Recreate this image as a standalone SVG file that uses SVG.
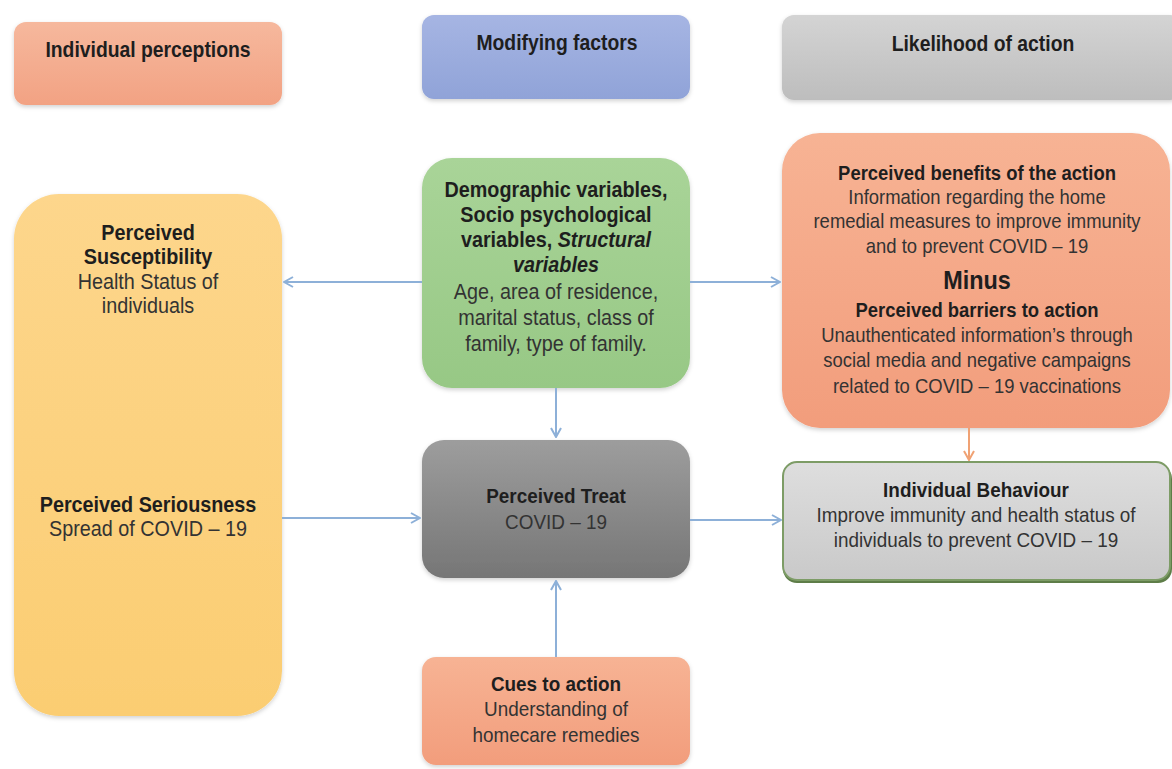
<svg xmlns="http://www.w3.org/2000/svg" width="1172" height="769" viewBox="0 0 1172 769">
<defs>
<linearGradient id="gSalmon" x1="0" y1="0" x2="0" y2="1"><stop offset="0" stop-color="#f6b89d"/><stop offset="1" stop-color="#f2a283"/></linearGradient>
<linearGradient id="gBlue" x1="0" y1="0" x2="0" y2="1"><stop offset="0" stop-color="#a6b5e3"/><stop offset="1" stop-color="#90a3d8"/></linearGradient>
<linearGradient id="gGray" x1="0" y1="0" x2="0" y2="1"><stop offset="0" stop-color="#d4d4d4"/><stop offset="1" stop-color="#bdbdbd"/></linearGradient>
<linearGradient id="gYellow" x1="0" y1="0" x2="0" y2="1"><stop offset="0" stop-color="#fdd68c"/><stop offset="1" stop-color="#fbcd72"/></linearGradient>
<linearGradient id="gGreen" x1="0" y1="0" x2="0" y2="1"><stop offset="0" stop-color="#a9d498"/><stop offset="1" stop-color="#97c885"/></linearGradient>
<linearGradient id="gOrange" x1="0" y1="0" x2="0" y2="1"><stop offset="0" stop-color="#f7b394"/><stop offset="1" stop-color="#f29d7c"/></linearGradient>
<linearGradient id="gDark" x1="0" y1="0" x2="0" y2="1"><stop offset="0" stop-color="#9d9d9d"/><stop offset="1" stop-color="#767676"/></linearGradient>
<linearGradient id="gLight" x1="0" y1="0" x2="0" y2="1"><stop offset="0" stop-color="#dedede"/><stop offset="1" stop-color="#c9c9c9"/></linearGradient>
<filter id="sh" x="-10%" y="-10%" width="120%" height="125%">
<feDropShadow dx="0" dy="2" stdDeviation="2" flood-color="#000" flood-opacity="0.18"/>
</filter>
<marker id="ah" viewBox="0 0 12 12" refX="11" refY="6" markerWidth="12" markerHeight="12" markerUnits="userSpaceOnUse" orient="auto">
<path d="M2,1 L11,6 L2,11" fill="none" stroke="#8db0d8" stroke-width="2"/>
</marker>
<marker id="ahO" viewBox="0 0 12 12" refX="11" refY="6" markerWidth="12" markerHeight="12" markerUnits="userSpaceOnUse" orient="auto">
<path d="M2,1 L11,6 L2,11" fill="none" stroke="#f0a274" stroke-width="2"/>
</marker>
</defs>
<style>
text{font-family:"Liberation Sans",Arial,sans-serif;text-anchor:middle;fill:#2a2a2a}
.h{font-weight:bold;font-size:21.5px;fill:#1e1e1e}
.b{font-weight:bold;font-size:22px;fill:#1e1e1e}
.r{font-size:22px;fill:#333}
.bo{font-weight:bold;font-size:20.5px;fill:#1e1e1e}
.ro{font-size:20.5px;fill:#333}
.bs{font-weight:bold;font-size:21px;fill:#1e1e1e}
.rs{font-size:21px;fill:#333}
.i{font-style:italic}
.box{filter:url(#sh)}
.conn line{stroke:#8db0d8;stroke-width:2;fill:none}
</style>
<rect width="1172" height="769" fill="#ffffff"/>

<g id="hdr-individual">
<rect class="box" x="14" y="22" width="268" height="83" rx="12" fill="url(#gSalmon)"/>
<g transform="translate(148 0) scale(0.9 1)"><text class="h" x="0" y="57">Individual perceptions</text></g>
</g>
<g id="hdr-modifying">
<rect class="box" x="422" y="15" width="268" height="84" rx="12" fill="url(#gBlue)"/>
<g transform="translate(557 0) scale(0.9 1)"><text class="h" x="0" y="50">Modifying factors</text></g>
</g>
<g id="hdr-likelihood">
<rect class="box" x="782" y="15" width="400" height="85" rx="12" fill="url(#gGray)"/>
<g transform="translate(983 0) scale(0.9 1)"><text class="h" x="0" y="51">Likelihood of action</text></g>
</g>

<g id="individual-perceptions">
<rect class="box" x="14" y="194" width="268" height="522" rx="45" fill="url(#gYellow)"/>
<g transform="translate(148 0) scale(0.9 1)">
<text class="b" x="0" y="240">Perceived</text>
<text class="b" x="0" y="264">Susceptibility</text>
<text class="r" x="0" y="289">Health Status of</text>
<text class="r" x="0" y="313">individuals</text>
<text class="b" x="0" y="512">Perceived Seriousness</text>
<text class="r" x="0" y="536">Spread of COVID – 19</text>
</g>
</g>

<g id="modifying-factors">
<rect class="box" x="422" y="158" width="268" height="230" rx="30" fill="url(#gGreen)"/>
<g transform="translate(556 0) scale(0.9 1)">
<text class="b" x="0" y="197">Demographic variables,</text>
<text class="b" x="0" y="222">Socio psychological</text>
<text class="b" x="0" y="247">variables, <tspan class="i">Structural</tspan></text>
<text class="b i" x="0" y="272">variables</text>
<text class="r" x="0" y="299">Age, area of residence,</text>
<text class="r" x="0" y="325">marital status, class of</text>
<text class="r" x="0" y="351">family, type of family.</text>
</g>
</g>

<g id="likelihood">
<rect class="box" x="782" y="133" width="388" height="295" rx="38" fill="url(#gOrange)"/>
<g transform="translate(977 0) scale(0.9 1)">
<text class="bo" x="0" y="180">Perceived benefits of the action</text>
<text class="ro" x="0" y="204">Information regarding the home</text>
<text class="ro" x="0" y="228">remedial measures to improve immunity</text>
<text class="ro" x="0" y="253">and to prevent COVID – 19</text>
<text class="bo" x="0" y="289" style="font-size:26px">Minus</text>
<text class="bo" x="0" y="317">Perceived barriers to action</text>
<text class="ro" x="0" y="342">Unauthenticated information’s through</text>
<text class="ro" x="0" y="367">social media and negative campaigns</text>
<text class="ro" x="0" y="393">related to COVID – 19 vaccinations</text>
</g>
</g>

<g id="perceived-treat">
<rect class="box" x="422" y="440" width="268" height="138" rx="22" fill="url(#gDark)"/>
<g transform="translate(556 0) scale(0.9 1)">
<text class="bs" x="0" y="503">Perceived Treat</text>
<text class="rs" x="0" y="529">COVID – 19</text>
</g>
</g>

<g id="individual-behaviour">
<rect x="783" y="465" width="389" height="118" rx="14" fill="#5e7d48"/>
<rect x="783" y="462" width="387" height="118" rx="14" fill="url(#gLight)" stroke="#7d9c66" stroke-width="2"/>
<g transform="translate(976 0) scale(0.9 1)">
<text class="bs" x="0" y="497">Individual Behaviour</text>
<text class="rs" x="0" y="522">Improve immunity and health status of</text>
<text class="rs" x="0" y="547">individuals to prevent COVID – 19</text>
</g>
</g>

<g id="cues">
<rect class="box" x="422" y="657" width="268" height="108" rx="14" fill="url(#gOrange)"/>
<g transform="translate(556 0) scale(0.9 1)">
<text class="bs" x="0" y="691">Cues to action</text>
<text class="rs" x="0" y="716">Understanding of</text>
<text class="rs" x="0" y="742">homecare remedies</text>
</g>
</g>

<g id="connectors" class="conn">
<line x1="422" y1="282" x2="284" y2="282" marker-end="url(#ah)"/>
<line x1="690" y1="282" x2="780" y2="282" marker-end="url(#ah)"/>
<line x1="556" y1="388" x2="556" y2="437" marker-end="url(#ah)"/>
<line x1="282" y1="518" x2="420" y2="518" marker-end="url(#ah)"/>
<line x1="690" y1="520" x2="781" y2="520" marker-end="url(#ah)"/>
<line x1="556" y1="657" x2="556" y2="581" marker-end="url(#ah)"/>
<line x1="969" y1="428" x2="969" y2="460" marker-end="url(#ahO)" style="stroke:#f0a274"/>
</g>
</svg>
